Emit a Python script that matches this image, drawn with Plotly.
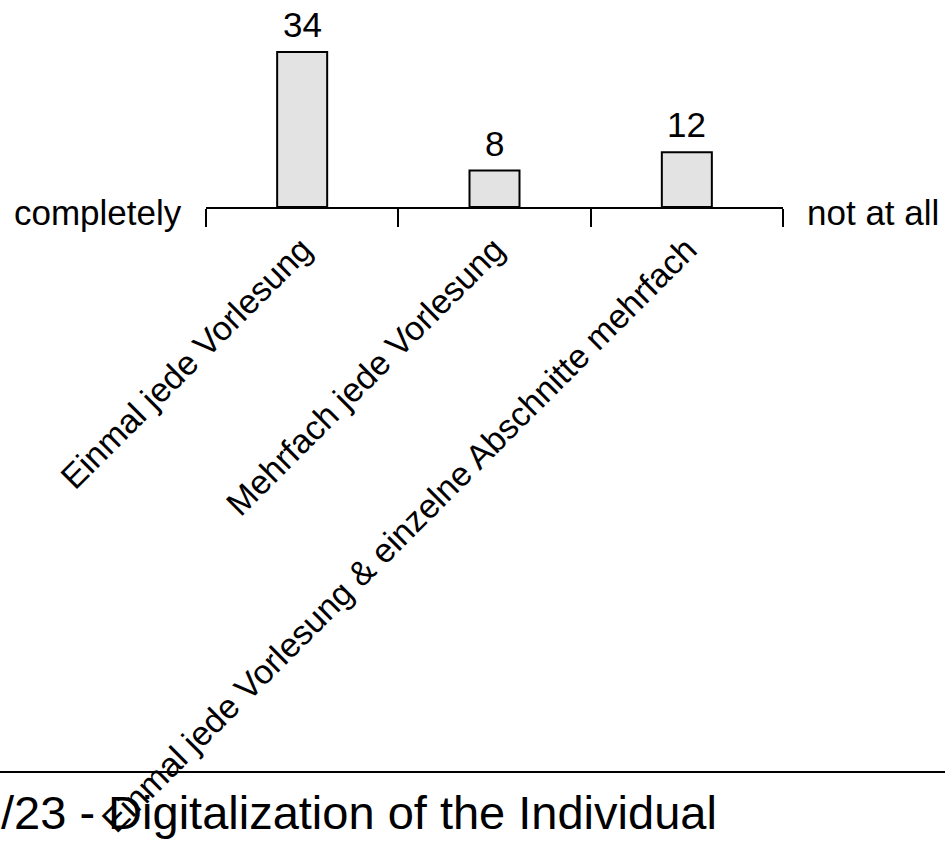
import plotly.graph_objects as go

categories = [
    "Einmal jede Vorlesung",
    "Mehrfach jede Vorlesung",
    "Einmal jede Vorlesung & einzelne Abschnitte mehrfach",
]
counts = [34, 8, 12]
left_label = "completely"
right_label = "not at all"
footer_text = "/23 - Digitalization of the Individual"

FONT = "Arial, 'Liberation Sans', sans-serif"
FS = 35

fig = go.Figure()
fig.add_trace(go.Bar(
    x=categories,
    y=counts,
    width=0.26,
    marker=dict(color="#e3e3e3", line=dict(color="black", width=2)),
    cliponaxis=False,
    hoverinfo="x+y",
))

for c, v in zip(categories, counts):
    fig.add_annotation(x=c, y=v, xref="x", yref="y", text=str(v),
                       showarrow=False, yanchor="bottom", yshift=6,
                       font=dict(size=FS, family=FONT, color="black"))

fig.update_layout(
    width=945, height=847, autosize=False,
    margin=dict(l=206, r=162, t=10, b=640, pad=0),
    paper_bgcolor="white", plot_bgcolor="white",
    showlegend=False,
    font=dict(family=FONT, size=FS, color="black"),
    xaxis=dict(
        type="category",
        showline=True, linecolor="black", linewidth=2,
        ticks="outside", tickson="boundaries", ticklen=18,
        tickwidth=2, tickcolor="black",
        tickangle=-45,
        ticklabelstandoff=7,
        tickfont=dict(size=34, color="black", family=FONT),
        showgrid=False, zeroline=False, automargin=False,
    ),
    yaxis=dict(visible=False, range=[0, 43.2], fixedrange=True),
)

fig.add_annotation(text=left_label, xref="paper", yref="paper", x=0, y=0,
                   xanchor="right", yanchor="middle", xshift=-22, yshift=-5,
                   showarrow=False, font=dict(size=FS, family=FONT, color="black"))
fig.add_annotation(text=right_label, xref="paper", yref="paper", x=1, y=0,
                   xanchor="left", yanchor="middle", xshift=22, yshift=-5,
                   showarrow=False, font=dict(size=FS, family=FONT, color="black"))

fig.add_shape(type="line", xref="paper", yref="paper",
              xsizemode="pixel", ysizemode="pixel", xanchor=0, yanchor=0,
              x0=-206, x1=739, y0=-565, y1=-565,
              line=dict(color="black", width=2), layer="above")

fig.add_annotation(text=footer_text, xref="paper", yref="paper", x=0, y=0,
                   xanchor="left", yanchor="middle", xshift=-207, yshift=-605,
                   showarrow=False, font=dict(size=47, family=FONT, color="black"))

fig.write_html(
    "out.html",
    config={"displayModeBar": False},
    post_script="document.body.style.margin='0';document.body.style.overflow='hidden';",
)
